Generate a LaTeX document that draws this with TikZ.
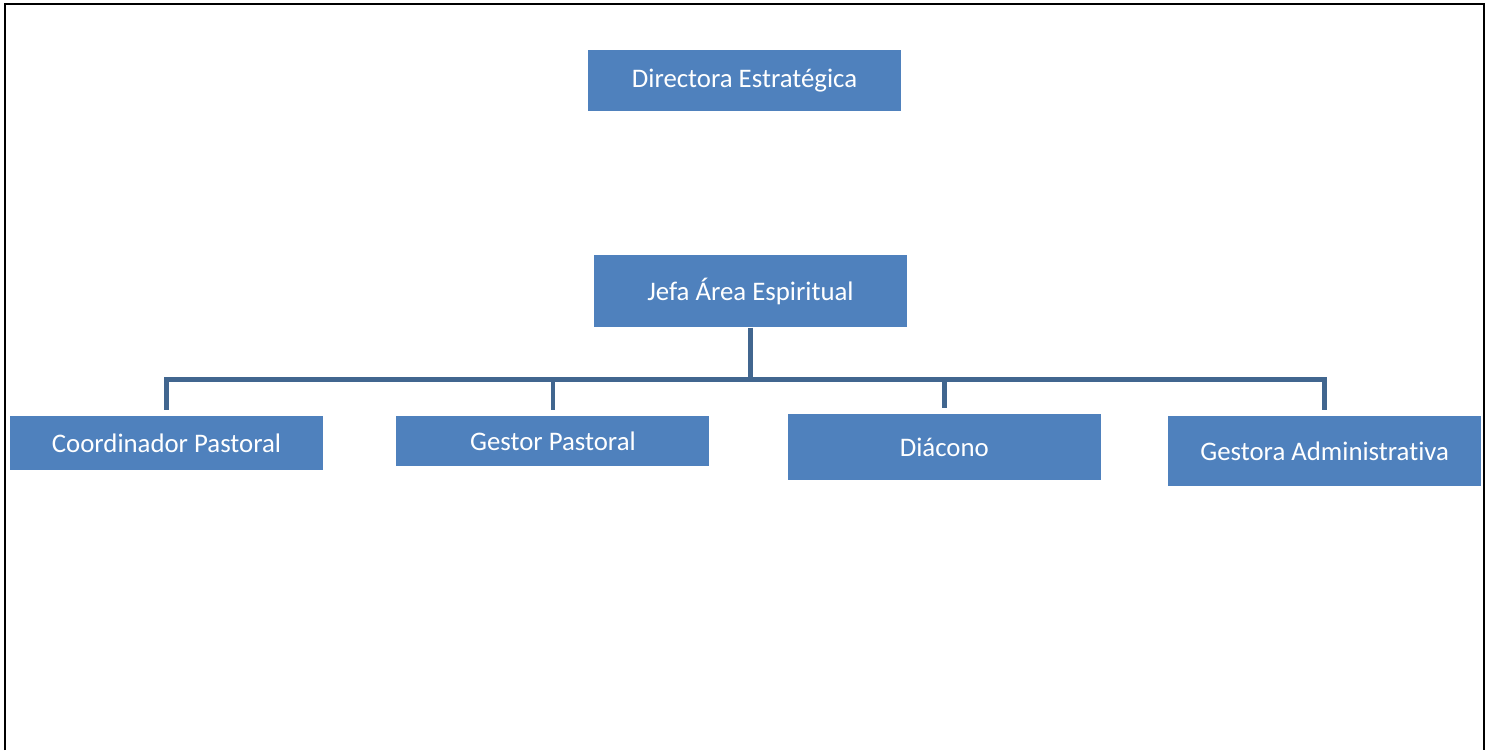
\documentclass[tikz,border=0pt]{standalone}
\usepackage{fontspec}
\setmainfont{Carlito}[Ligatures={NoCommon}]
\usetikzlibrary{positioning}
\definecolor{boxblue}{HTML}{4F81BD}
\definecolor{lineblue}{HTML}{41668F}
\begin{document}
\begin{tikzpicture}[x=1pt, y=1pt, node distance=70pt]
\useasboundingbox (0,0) rectangle (1491,-750);

% Define the node styles
\tikzstyle{puesto}=[rectangle, fill=boxblue, text=white, minimum width=313pt, inner sep=0pt, font=\fontsize{26.8}{32}\selectfont]
\tikzstyle{rama}=[draw=lineblue, line width=4.5pt]

% Frame
\draw[line width=1.5pt] (5,-750) -- (5,-4) -- (1484,-4) -- (1484,-750);
\draw[line width=2.5pt] (4,-4) -- (1485,-4);

% Define the nodes
\node[puesto, minimum height=61pt] (dir) at (744.5,-80.5) {Directora Estratégica};
\node[puesto, minimum height=72pt, below=144pt of dir, xshift=6pt] (jefa) {Jefa Área Espiritual};
\node[puesto, minimum height=54pt] (coord) at (166.5,-443) {Coordinador Pastoral};
\node[puesto, minimum height=50pt, right=73pt of coord, yshift=2pt] (gestor) {Gestor Pastoral};
\node[puesto, minimum height=66pt, right=78pt of gestor, yshift=-6pt] (diac) {Diácono};
\node[puesto, minimum height=70pt, right=67pt of diac, yshift=-4pt] (gadm) {Gestora Administrativa};
\coordinate[below=52pt of jefa.south] (bar);

% Add the edges
\draw[rama] (jefa.south) -- (bar);
\draw[rama, shorten >=6pt] (bar) -| (coord.north);
\draw[rama, shorten >=6pt] (bar) -| (gestor.north);
\draw[rama, shorten >=6pt] (bar) -| (diac.north);
\draw[rama, shorten >=6pt] (bar) -| (gadm.north);

\end{tikzpicture}
\end{document}
